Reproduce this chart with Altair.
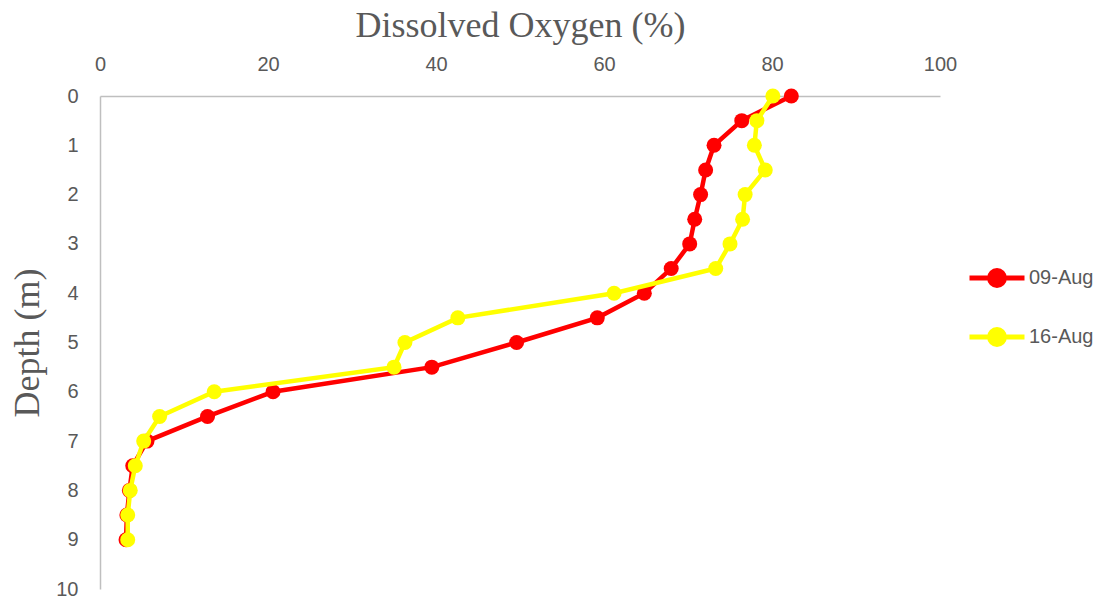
import altair as alt
import pandas as pd

depth = [0, 0.5, 1, 1.5, 2, 2.5, 3, 3.5, 4, 4.5, 5, 5.5, 6, 6.5, 7, 7.5, 8, 8.5, 9]
do_aug09 = [82.3, 76.4, 73.1, 72.1, 71.5, 70.8, 70.2, 68.0, 64.8, 59.2, 49.6, 39.5, 20.6, 12.8, 5.6, 3.9, 3.5, 3.2, 3.1]
do_aug16 = [80.1, 78.2, 77.9, 79.2, 76.8, 76.5, 75.0, 73.3, 61.2, 42.6, 36.3, 35.0, 13.6, 7.1, 5.2, 4.2, 3.6, 3.3, 3.3]
series = ["09-Aug", "16-Aug"]
colors = ["#FF0000", "#FFFF00"]
x_ticks = [0, 20, 40, 60, 80, 100]
y_ticks = [0, 1, 2, 3, 4, 5, 6, 7, 8, 9, 10]

rows = []
for name, vals in zip(series, [do_aug09, do_aug16]):
    for d, v in zip(depth, vals):
        rows.append({"Series": name, "Depth": d, "DO": v})
df = pd.DataFrame(rows)

gray = "#595959"
r = 0.27
sym_path = (f"M-1,0L1,0M-{r},0A{r},{r},0,1,1,{r},0A{r},{r},0,1,1,-{r},0Z")

color = alt.Color(
    "Series:N",
    scale=alt.Scale(domain=series, range=colors),
    legend=alt.Legend(
        title=None, orient="none", legendX=867, legendY=152, padding=0,
        symbolType=sym_path, symbolSize=3025, symbolStrokeWidth=5,
        symbolOpacity=1,
        labelFontSize=20, labelFont="Liberation Sans", labelColor=gray,
        labelOffset=2, rowPadding=11,
    ),
)

x = alt.X(
    "DO:Q",
    scale=alt.Scale(domain=[0, 100], nice=False),
    axis=alt.Axis(orient="top", values=x_ticks, title="Dissolved Oxygen (%)",
                  grid=False, ticks=False, labelPadding=22, titlePadding=10,
                  labelFlush=False,
                  labelFontSize=20, labelFont="Liberation Sans", labelColor=gray,
                  titleFont="Liberation Serif", titleFontSize=36, titleFontWeight="normal",
                  titleColor=gray, domainColor="#BFBFBF", domainWidth=1.5),
)
y = alt.Y(
    "Depth:Q",
    scale=alt.Scale(domain=[0, 10], reverse=True, nice=False),
    axis=alt.Axis(values=y_ticks, title="Depth (m)", grid=False, ticks=False,
                  labelPadding=22, titlePadding=9, labelFlush=False,
                  labelFontSize=20, labelFont="Liberation Sans", labelColor=gray,
                  titleFont="Liberation Serif", titleFontSize=36, titleFontWeight="normal",
                  titleColor=gray, domainColor="#BFBFBF", domainWidth=1.5),
)

layers = []
for name in series:
    base = alt.Chart(df).transform_filter(alt.datum.Series == name)
    line = base.mark_line(strokeWidth=4.5).encode(x=x, y=y, color=color, order="Depth:Q")
    pts = base.mark_point(filled=True, size=225, opacity=1, shape="circle").encode(x=x, y=y, color=color)
    layers += [line, pts]

chart = alt.layer(*layers).properties(
    width=840, height=493,
    background="white",
    autosize=alt.AutoSizeParams(type="none"),
    padding={"left": 100, "top": 96, "right": 162, "bottom": 16},
).configure_view(stroke=None)

chart.save("out.html", embed_options={"renderer": "svg", "actions": False})
